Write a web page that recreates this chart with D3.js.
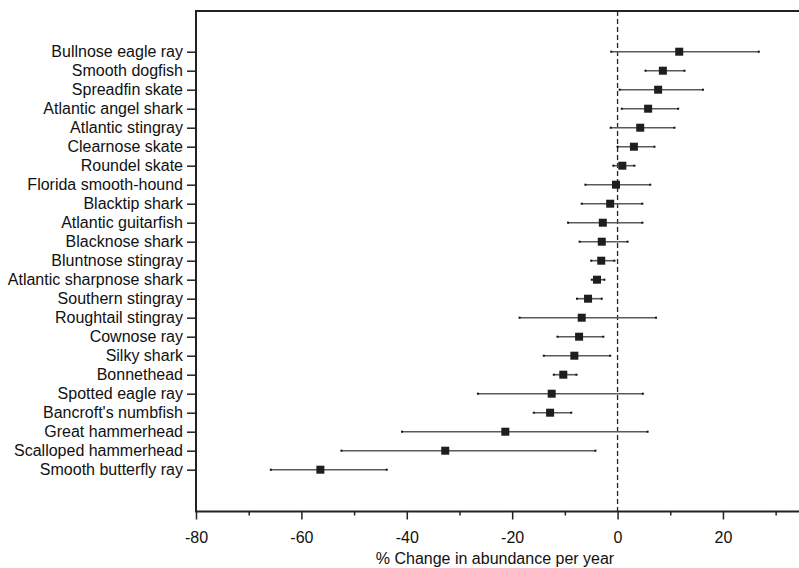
<!DOCTYPE html>
<html>
<head>
<meta charset="utf-8">
<script src="https://cdn.jsdelivr.net/npm/d3@7"></script>
<style>
  body { margin: 0; background: #fff; }
  svg { display: block; font-family: "Liberation Sans", Arial, sans-serif; }
</style>
</head>
<body>
<svg id="chart" width="799" height="568"></svg>
<script>
// species, top to bottom
const species = [
  'Bullnose eagle ray', 'Smooth dogfish', 'Spreadfin skate', 'Atlantic angel shark',
  'Atlantic stingray', 'Clearnose skate', 'Roundel skate', 'Florida smooth-hound',
  'Blacktip shark', 'Atlantic guitarfish', 'Blacknose shark', 'Bluntnose stingray',
  'Atlantic sharpnose shark', 'Southern stingray', 'Roughtail stingray', 'Cownose ray',
  'Silky shark', 'Bonnethead', 'Spotted eagle ray', "Bancroft's numbfish",
  'Great hammerhead', 'Scalloped hammerhead', 'Smooth butterfly ray'
]
const estimate = [11.7, 8.6, 7.7, 5.8, 4.3, 3.1, 0.9, -0.3, -1.4, -2.8, -3.0, -3.1,
  -3.9, -5.6, -6.8, -7.3, -8.2, -10.3, -12.5, -12.8, -21.3, -32.7, -56.4]
const lower = [-1.2, 5.3, 0.4, 0.8, -1.3, 0.0, -0.8, -6.1, -6.8, -9.4, -7.2, -5.0,
  -4.9, -7.7, -18.6, -11.4, -14.0, -12.1, -26.5, -15.9, -40.9, -52.4, -65.8]
const upper = [26.8, 12.7, 16.2, 11.5, 10.8, 7.0, 3.2, 6.2, 4.7, 4.7, 1.9, -0.6,
  -2.5, -3.0, 7.3, -2.7, -1.4, -7.8, 4.8, -8.8, 5.7, -4.2, -43.8]
const majorTicks = [-80, -60, -40, -20, 0, 20]
const minorTicks = [-70, -50, -30, -10, 10, 30]

const rows = species.map((s, i) => ({ name: s, est: estimate[i], lo: lower[i], hi: upper[i] }))

const plotLeft = 196, plotTop = 11, plotBottom = 511.5
const svg = d3.select('#chart')

const x = d3.scaleLinear().domain([-80, 35]).range([plotLeft, 802])
const y = d3.scalePoint().domain(species).range([plotTop + 40.7, plotBottom - 41.8])

// frame (right edge falls outside the view)
svg.append('rect')
  .attr('x', plotLeft).attr('y', plotTop)
  .attr('width', x(35) - plotLeft).attr('height', plotBottom - plotTop)
  .attr('fill', 'none').attr('stroke', '#222').attr('stroke-width', 2)

// x axis
let xAxis = svg.append('g')
  .attr('transform', `translate(0,${plotBottom})`)
  .call(d3.axisBottom(x).tickValues(majorTicks).tickSize(8).tickSizeOuter(0).tickPadding(12)
    .tickFormat(d => String(d)))
xAxis.select('.domain').remove()
xAxis.selectAll('line').attr('stroke', '#222').attr('stroke-width', 1.5)
xAxis.selectAll('text').attr('font-size', 16).attr('fill', '#111')

let xMinor = svg.append('g')
  .attr('transform', `translate(0,${plotBottom})`)
  .call(d3.axisBottom(x).tickValues(minorTicks).tickSize(4).tickFormat(''))
xMinor.select('.domain').remove()
xMinor.selectAll('line').attr('stroke', '#222').attr('stroke-width', 1.5)

svg.append('text')
  .attr('x', 495).attr('y', 564)
  .attr('text-anchor', 'middle')
  .attr('font-size', 16).attr('fill', '#111')
  .text('% Change in abundance per year')

// y axis
let yAxis = svg.append('g')
  .attr('transform', `translate(${plotLeft},0)`)
  .call(d3.axisLeft(y).tickSize(9).tickPadding(4))
yAxis.select('.domain').remove()
yAxis.selectAll('line').attr('stroke', '#222').attr('stroke-width', 1.5)
yAxis.selectAll('text').attr('font-size', 16).attr('fill', '#111')

// zero line
svg.append('line')
  .attr('x1', x(0)).attr('x2', x(0))
  .attr('y1', plotTop).attr('y2', plotBottom)
  .attr('stroke', '#222').attr('stroke-width', 1.3)
  .attr('stroke-dasharray', '5,3')

// confidence intervals
svg.selectAll('line.ci').data(rows)
  .enter()
  .append('line')
  .attr('class', 'ci')
  .attr('x1', d => x(d.lo)).attr('x2', d => x(d.hi))
  .attr('y1', d => y(d.name)).attr('y2', d => y(d.name))
  .attr('stroke', '#5a5a5a').attr('stroke-width', 1.6)

// little end caps
svg.selectAll('rect.cap').data(rows.flatMap(d => [{ name: d.name, v: d.lo }, { name: d.name, v: d.hi }]))
  .enter()
  .append('rect')
  .attr('class', 'cap')
  .attr('x', d => x(d.v) - 1).attr('y', d => y(d.name) - 1)
  .attr('width', 2).attr('height', 2)
  .attr('fill', '#111')

// estimates
svg.selectAll('rect.est').data(rows)
  .enter()
  .append('rect')
  .attr('class', 'est')
  .attr('x', d => x(d.est) - 4).attr('y', d => y(d.name) - 4)
  .attr('width', 8).attr('height', 8)
  .attr('fill', '#1e1e1e')
</script>
</body>
</html>
